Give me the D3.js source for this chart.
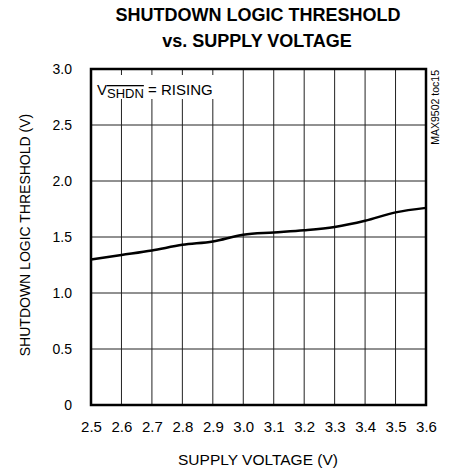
<!DOCTYPE html>
<html>
<head>
<meta charset="utf-8">
<script src="https://cdn.jsdelivr.net/npm/d3@7"></script>
<style>
	body { margin: 0; background: #fff; }
	svg text { font-family: "Liberation Sans", Arial, sans-serif; fill: #000; }
</style>
</head>
<body>
<svg id="chart" width="451" height="470"></svg>
<script>
'use strict';

// supply voltage (V)
var supplyV = [2.5, 2.6, 2.7, 2.8, 2.9, 3.0, 3.1, 3.2, 3.3, 3.4, 3.5, 3.6];
// shutdown logic threshold (V), rising
var thresholdV = [1.30, 1.34, 1.38, 1.43, 1.46, 1.52, 1.54, 1.56, 1.59, 1.645, 1.72, 1.76];

var xTicks = [2.5, 2.6, 2.7, 2.8, 2.9, 3.0, 3.1, 3.2, 3.3, 3.4, 3.5, 3.6];
var yTicks = [0, 0.5, 1.0, 1.5, 2.0, 2.5, 3.0];

var FONT = '"Liberation Sans", Arial, sans-serif';

var svg = d3.select("#chart"),
	margin = {top: 69, right: 25, bottom: 65, left: 91},
	width = +svg.attr("width") - margin.left - margin.right,
	height = +svg.attr("height") - margin.top - margin.bottom,
	g = svg.append("g").attr("transform", "translate(" + margin.left + "," + margin.top + ")");

var x = d3.scaleLinear().domain([2.5, 3.6]).range([0, width]);
var y = d3.scaleLinear().domain([0, 3.0]).range([height, 0]);

// grid
g.append("g")
	.selectAll("line")
	.data(xTicks.slice(1, -1))
	.enter().append("line")
		.attr("x1", function(d) { return x(d); })
		.attr("x2", function(d) { return x(d); })
		.attr("y1", 0)
		.attr("y2", height)
		.attr("stroke", "#222")
		.attr("stroke-width", 1);

g.append("g")
	.selectAll("line")
	.data(yTicks.slice(1, -1))
	.enter().append("line")
		.attr("x1", 0)
		.attr("x2", width)
		.attr("y1", function(d) { return y(d); })
		.attr("y2", function(d) { return y(d); })
		.attr("stroke", "#222")
		.attr("stroke-width", 1);

// annotation box covers grid
g.append("rect")
	.attr("x", 2)
	.attr("y", 6)
	.attr("width", 129)
	.attr("height", 24)
	.attr("fill", "#fff");

var ann = g.append("text")
	.attr("x", 6)
	.attr("y", 26)
	.style("font-size", "15px");
ann.append("tspan").text("V");
ann.append("tspan")
	.attr("dy", 3)
	.style("font-size", "13px")
	.style("text-decoration", "overline")
	.text("SHDN");
ann.append("tspan").attr("dy", -3).text(" = RISING");

// curve
var line = d3.line()
	.x(function(d, i) { return x(supplyV[i]); })
	.y(function(d) { return y(d); })
	.curve(d3.curveMonotoneX);

g.append("path")
	.datum(thresholdV)
	.attr("fill", "none")
	.attr("stroke", "#000")
	.attr("stroke-width", 2.5)
	.attr("d", line);

// frame
g.append("rect")
	.attr("width", width)
	.attr("height", height)
	.attr("fill", "none")
	.attr("stroke", "#000")
	.attr("stroke-width", 2.5);

// axes
var xAxis = g.append("g")
	.attr("transform", "translate(0," + height + ")")
	.call(d3.axisBottom(x).tickValues(xTicks).tickFormat(d3.format(".1f")).tickSize(0).tickPadding(16));
xAxis.select(".domain").remove();
xAxis.selectAll("text").style("font-size", "15px").style("font-family", FONT);

var yAxis = g.append("g")
	.call(d3.axisLeft(y).tickValues(yTicks)
		.tickFormat(function(d) { return d === 0 ? "0" : d3.format(".1f")(d); })
		.tickSize(0).tickPadding(19));
yAxis.select(".domain").remove();
yAxis.selectAll("text").style("font-size", "14px").style("font-family", FONT);

// titles
svg.append("text")
	.attr("x", 258)
	.attr("y", 21)
	.attr("text-anchor", "middle")
	.style("font-size", "18px")
	.style("font-weight", "bold")
	.text("SHUTDOWN LOGIC THRESHOLD");
svg.append("text")
	.attr("x", 257)
	.attr("y", 47)
	.attr("text-anchor", "middle")
	.style("font-size", "18px")
	.style("font-weight", "bold")
	.text("vs. SUPPLY VOLTAGE");

svg.append("text")
	.attr("x", 258)
	.attr("y", 465)
	.attr("text-anchor", "middle")
	.style("font-size", "15.5px")
	.text("SUPPLY VOLTAGE (V)");

svg.append("text")
	.attr("transform", "translate(30,235) rotate(-90)")
	.attr("text-anchor", "middle")
	.style("font-size", "14px")
	.text("SHUTDOWN LOGIC THRESHOLD (V)");

svg.append("text")
	.attr("transform", "translate(439,70) rotate(-90)")
	.attr("text-anchor", "end")
	.style("font-size", "10.5px")
	.text("MAX9502 toc15");
</script>
</body>
</html>
